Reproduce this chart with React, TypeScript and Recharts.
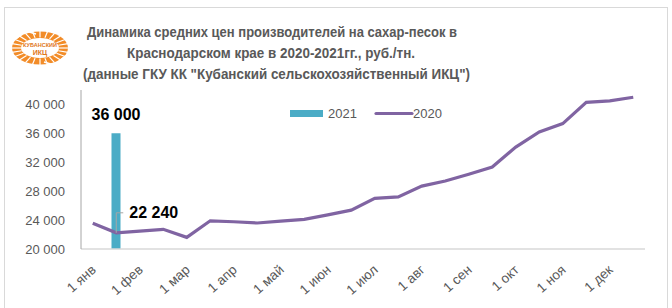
import React from "react";
import { ComposedChart, Bar, Line, XAxis, YAxis, LabelList } from "recharts";

const dates = [
  "1 янв", "15 янв", "1 фев", "15 фев", "1 мар", "15 мар", "1 апр", "15 апр",
  "1 май", "15 май", "1 июн", "15 июн", "1 июл", "15 июл", "1 авг", "15 авг",
  "1 сен", "15 сен", "1 окт", "15 окт", "1 ноя", "15 ноя", "1 дек", "15 дек",
];
const values2020 = [
  23550, 22240, 22470, 22720, 21610, 23900, 23770, 23600,
  23850, 24100, 24720, 25380, 27000, 27200, 28700, 29400,
  30350, 31350, 34100, 36200, 37350, 40300, 40500, 41000,
];
const values2021 = [
  null, 36000, null, null, null, null, null, null,
  null, null, null, null, null, null, null, null,
  null, null, null, null, null, null, null, null,
];
const yTicks = [20000, 24000, 28000, 32000, 36000, 40000];
const titleLines = [
  "Динамика средних цен производителей на сахар-песок в",
  "Краснодарском крае в 2020-2021гг., руб./тн.",
  "(данные ГКУ КК \"Кубанский сельскохозяйственный ИКЦ\")",
];
const series2021 = "2021";
const series2020 = "2020";

const data = dates.map((d, i) => ({ date: d, v2020: values2020[i], v2021: values2021[i] }));

const COLOR_BAR = "#4bacc6";
const COLOR_LINE = "#8064a2";
const TEXT_GRAY = "#595959";
const FONT = "'Liberation Sans', Arial, sans-serif";

const fmt = (v: number) => String(v).replace(/\B(?=(\d{3})+(?!\d))/g, " ");

const XTick = (props: any) => {
  const { x, y, payload } = props;
  const tx = x + 4;
  const ty = y + 20;
  return (
    <text
      x={tx}
      y={ty}
      textAnchor="end"
      fill={TEXT_GRAY}
      fontSize={13.5}
      fontFamily={FONT}
      transform={`rotate(-42, ${tx}, ${ty})`}
    >
      {payload.value}
    </text>
  );
};

const BarLabel = (props: any) => {
  const { x, y, width, value } = props;
  if (value == null) return null;
  return (
    <text x={x + width / 2} y={y - 13} textAnchor="middle" fill="#000" fontSize={16} fontWeight="bold" fontFamily={FONT}>
      {fmt(value)}
    </text>
  );
};

const LineLabel = (props: any) => {
  const { x, y, value, index } = props;
  if (index !== 1) return null;
  const topY = y - 20;
  return (
    <g>
      <polyline points={`${x},${y} ${x},${topY} ${x + 7},${topY}`} fill="none" stroke="#a6a6a6" strokeWidth={1} />
      <text x={x + 13} y={topY + 5.5} fill="#000" fontSize={16} fontWeight="bold" fontFamily={FONT}>
        {fmt(value)}
      </text>
    </g>
  );
};

const Logo = () => {
  const cx = 40, cy = 48;
  const rays = [];
  for (let a = 0; a < 360; a += 15) {
    const r = (a * Math.PI) / 180;
    rays.push(
      <line key={a} x1={cx + Math.cos(r) * 19} y1={cy + Math.sin(r) * 10.5} x2={cx + Math.cos(r) * 29} y2={cy + Math.sin(r) * 17}
        stroke="#fff" strokeWidth={1.2} />
    );
  }
  return (
    <g>
      <ellipse cx={cx} cy={cy} rx={28} ry={16.5} fill="#f28c28" />
      {rays}
      <ellipse cx={cx} cy={cy} rx={19} ry={10} fill="#fff" />
      <path d={`M${cx - 24},${cy - 9} L${cx - 14},${cy - 17} L${cx - 4},${cy - 14}`} fill="none" stroke="#fff" strokeWidth={1.5} />
      <path d={`M${cx + 24},${cy + 9} L${cx + 14},${cy + 17} L${cx + 4},${cy + 14}`} fill="none" stroke="#fff" strokeWidth={1.5} />
      <text x={cx} y={cy - 1} textAnchor="middle" fontSize={5.5} fontWeight="bold" fill="#e0761a" fontFamily={FONT}>КУБАНСКИЙ</text>
      <text x={cx} y={cy + 7} textAnchor="middle" fontSize={7} fontWeight="bold" fill="#e0761a" fontFamily={FONT}>ИКЦ</text>
    </g>
  );
};

export default function App() {
  return (
    <div style={{ position: "absolute", left: 0, top: 0, width: 672, height: 308, background: "#fff", overflow: "hidden" }}>
      <div style={{ position: "absolute", left: 4, top: 7, width: 662, height: 320, border: "1px solid #d9d9d9" }} />
      <div style={{ position: "absolute", left: 0, top: 0 }}>
        <ComposedChart width={672} height={308} data={data} margin={{ top: 90, right: 27, bottom: 0, left: 0 }}>
          <XAxis
            dataKey="date"
            interval={1}
            tickLine={false}
            tickSize={0}
            axisLine={{ stroke: "#d9d9d9", strokeWidth: 1.5 }}
            tick={<XTick />}
            height={59}
          />
          <YAxis
            domain={[20000, 42000]}
            ticks={yTicks}
            width={81}
            tickLine={false}
            axisLine={{ stroke: "#a6a6a6", strokeWidth: 1 }}
            tickFormatter={fmt}
            tick={{ fill: TEXT_GRAY, fontSize: 13, fontFamily: FONT }}
            tickMargin={10}
            interval={0}
          />
          <Bar dataKey="v2021" name={series2021} fill={COLOR_BAR} barSize={9} isAnimationActive={false}>
            <LabelList dataKey="v2021" content={<BarLabel />} />
          </Bar>
          <Line dataKey="v2020" name={series2020} stroke={COLOR_LINE} strokeWidth={3.2} dot={false} type="linear" isAnimationActive={false}>
            <LabelList dataKey="v2020" content={<LineLabel />} />
          </Line>
        </ComposedChart>
      </div>
      <svg width={672} height={308} style={{ position: "absolute", left: 0, top: 0, pointerEvents: "none" }}>
        <Logo />
        {titleLines.map((t, i) => (
          <text key={i} x={[272, 271, 276.5][i]} y={[37, 58, 79][i]} textAnchor="middle" fill={TEXT_GRAY}
            fontSize={14.5} fontWeight="bold" fontFamily={FONT}
            textLength={[370, 288, 387][i]} lengthAdjust="spacingAndGlyphs">
            {t}
          </text>
        ))}
        <rect x={290} y={110} width={33} height={7} fill={COLOR_BAR} />
        <text x={328} y={118} fill={TEXT_GRAY} fontSize={13} fontFamily={FONT}>{series2021}</text>
        <line x1={376} y1={113.5} x2={412} y2={113.5} stroke={COLOR_LINE} strokeWidth={3.2} strokeLinecap="round" />
        <text x={413} y={118} fill={TEXT_GRAY} fontSize={13} fontFamily={FONT}>{series2020}</text>
      </svg>
    </div>
  );
}
